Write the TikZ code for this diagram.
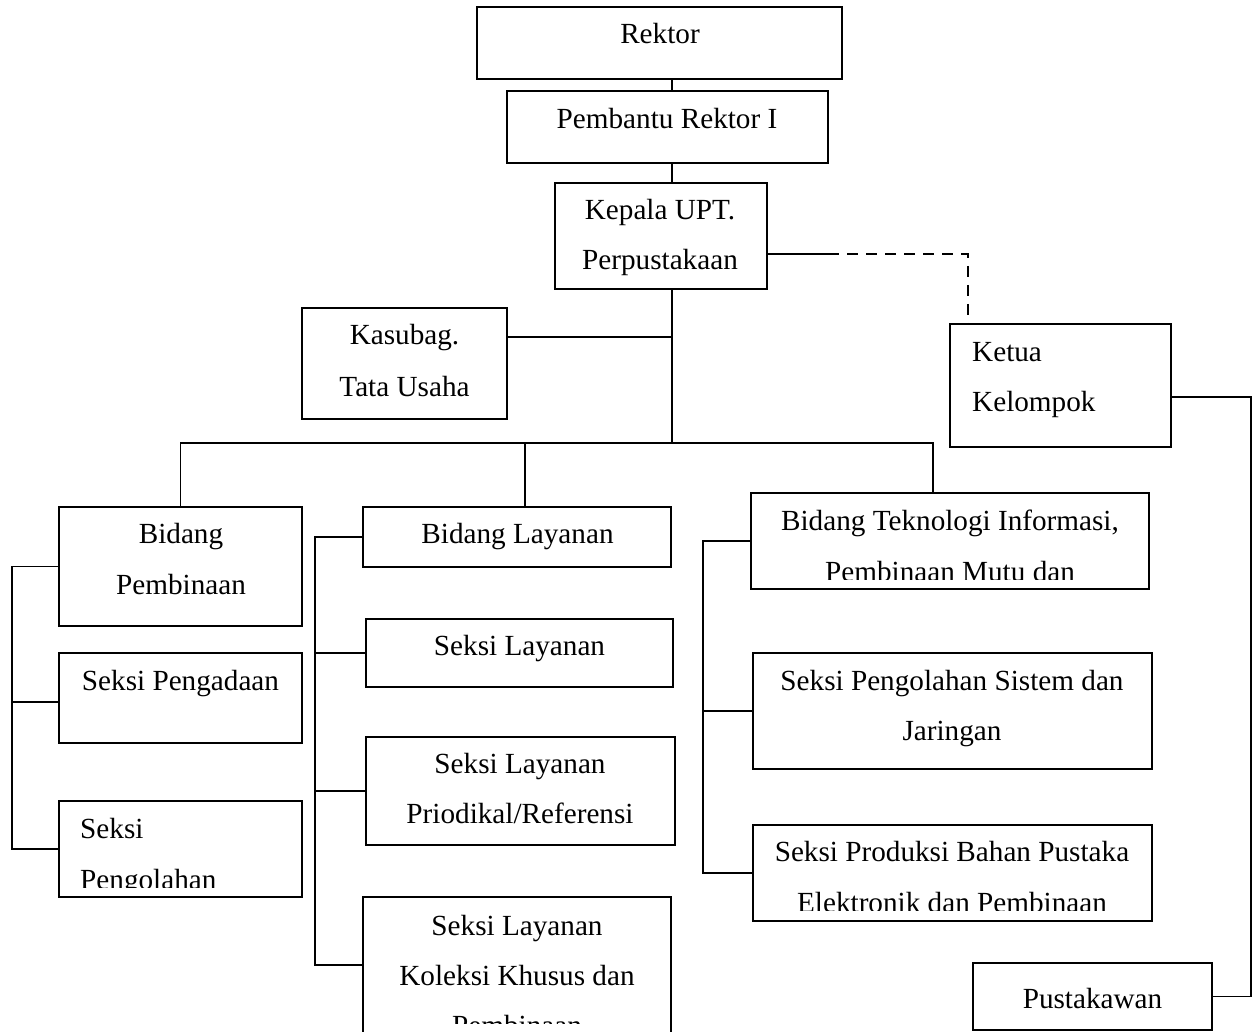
\documentclass[tikz,border=0pt]{standalone}
\usepackage{fontspec}
\setmainfont{Liberation Serif}

\tikzset{
  kotak/.style={draw, line width=1.7pt, inner sep=0pt},
  garis/.style={line width=1.6pt},
  putus/.style={line width=1.8pt, dash pattern=on 11pt off 8pt},
  teks/.style={anchor=base, inner sep=0pt, font=\fontsize{29.2}{35}\selectfont},
  teksk/.style={teks, anchor=base west}
}

\begin{document}
\begin{tikzpicture}[x=1pt, y=-1pt]
            \useasboundingbox (0,0) rectangle (1254,1032);

            % kotak-kotak
            \node[kotak, minimum width=365, minimum height=72] (rektor) at (659.5,43) {};
            \node[kotak, minimum width=321, minimum height=72] (pembantu) at (667.5,127) {};
            \node[kotak, minimum width=212, minimum height=106] (kepala) at (661,236) {};
            \node[kotak, minimum width=205, minimum height=111] (kasubag) at (404.5,363.5) {};
            \node[kotak, minimum width=221, minimum height=123] (ketua) at (1060.5,385.5) {};

            \node[kotak, minimum width=243, minimum height=119] (bidpem) at (180.5,566.5) {};
            \node[kotak, minimum width=243, minimum height=90] (sekada) at (180.5,698) {};
            \node[kotak, minimum width=243, minimum height=96] (sekolah) at (180.5,849) {};

            \node[kotak, minimum width=308, minimum height=60] (bidlay) at (517,537) {};
            \node[kotak, minimum width=307, minimum height=68] (seklay) at (519.5,653) {};
            \node[kotak, minimum width=309, minimum height=108] (priodik) at (520.5,791) {};
            \node[kotak, minimum width=308, minimum height=136] (koleksi) at (517,965) {};

            \node[kotak, minimum width=398, minimum height=96] (bidti) at (950,541) {};
            \node[kotak, minimum width=399, minimum height=116] (sistem) at (952.5,711) {};
            \node[kotak, minimum width=399, minimum height=96] (produksi) at (952.5,873) {};

            \node[kotak, minimum width=239, minimum height=67] (pustaka) at (1092.5,996.5) {};

            % tulisan
            \node[teks] (rektor-a) at (660,44) {Rektor};
            \node[teks] (pembantu-a) at (667,129) {Pembantu Rektor I};
            \node[teks] (kepala-a) at (660,220) {Kepala UPT.};
            \node[teks] (kepala-b) at (660,270) {Perpustakaan};
            \node[teks] (kasubag-a) at (404.5,345) {Kasubag.};
            \node[teks] (kasubag-b) at (404.5,397) {Tata Usaha};
            \node[teksk] (ketua-a) at (972,362) {Ketua};
            \node[teksk] (ketua-b) at (972,412) {Kelompok};

            \node[teks] (bidpem-a) at (181,543) {Bidang};
            \node[teks] (bidpem-b) at (181,594) {Pembinaan};
            \node[teks] (sekada-a) at (180.5,690) {Seksi Pengadaan};
            \node[teksk] (sekolah-a) at (80,838) {Seksi};
            \begin{scope}
              \clip (sekolah.north west) rectangle (sekolah.east |- 0,887);
              \node[teksk] (sekolah-b) at (80,889) {Pengolahan};
            \end{scope}

            \node[teks] (bidlay-a) at (517.5,543) {Bidang Layanan};
            \node[teks] (seklay-a) at (519.5,655) {Seksi Layanan};
            \node[teks] (priodik-a) at (520,773) {Seksi Layanan};
            \node[teks] (priodik-b) at (520,823) {Priodikal/Referensi};
            \node[teks] (koleksi-a) at (517,935) {Seksi Layanan};
            \node[teks] (koleksi-b) at (517,985) {Koleksi Khusus dan};
            \begin{scope}
              \clip (koleksi.north west) rectangle (koleksi.east |- 0,1023);
              \node[teks] (koleksi-c) at (517,1035) {Pembinaan};
            \end{scope}

            \node[teks] (bidti-a) at (950,530) {Bidang Teknologi Informasi,};
            \begin{scope}
              \clip (bidti.north west) rectangle (bidti.east |- 0,579);
              \node[teks] (bidti-b) at (950,581) {Pembinaan Mutu dan};
            \end{scope}
            \node[teks] (sistem-a) at (952,690) {Seksi Pengolahan Sistem dan};
            \node[teks] (sistem-b) at (952,740) {Jaringan};
            \node[teks] (produksi-a) at (952,861) {Seksi Produksi Bahan Pustaka};
            \begin{scope}
              \clip (produksi.north west) rectangle (produksi.east |- 0,910);
              \node[teks] (produksi-b) at (952,912) {Elektronik dan Pembinaan};
            \end{scope}
            \node[teks] (pustaka-a) at (1092.5,1008) {Pustakawan};

            % garis
            \coordinate (poros) at (672,443);
            \coordinate (tu) at (0,337);
            \coordinate (ada) at (0,702);
            \coordinate (bus-b) at (525,443);
            \coordinate (bus-c) at (933,443);
            \coordinate (kiri) at (12,0);
            \coordinate (tengah) at (315,0);
            \coordinate (kanan) at (703,0);
            \coordinate (ujung) at (1251,0);
            \coordinate (putus-a) at (828,254);
            \coordinate (turun) at (968,0);
            \coordinate (ketua-out) at (1171,397);

            \draw[garis] (rektor.south -| poros) -- (pembantu.north -| poros);
            \draw[garis] (pembantu.south -| poros) -- (kepala.north -| poros);
            \draw[garis] (kepala.south -| poros) -- (poros);
            \draw[garis] (kasubag.east |- tu) -- (poros |- tu);
            \draw[garis] (bidpem.north) -- (bidpem.north |- poros) -- (bus-c) -- (bus-c |- bidti.north);
            \draw[garis] (bus-b) -- (bus-b |- bidlay.north);

            \draw[garis] (bidpem.west) -- (bidpem.west -| kiri) -- (sekolah.west -| kiri) -- (sekolah.west);
            \draw[garis] (kiri |- ada) -- (sekada.west |- ada);

            \draw[garis] (bidlay.west) -- (bidlay.west -| tengah) -- (koleksi.west -| tengah) -- (koleksi.west);
            \draw[garis] (seklay.west -| tengah) -- (seklay.west);
            \draw[garis] (priodik.west -| tengah) -- (priodik.west);

            \draw[garis] (bidti.west) -- (bidti.west -| kanan) -- (produksi.west -| kanan) -- (produksi.west);
            \draw[garis] (sistem.west -| kanan) -- (sistem.west);

            \draw[garis] (kepala.east |- putus-a) -- (putus-a);
            \draw[putus] (putus-a) -| (turun |- ketua.north);
            \draw[garis] (ketua-out) -- (ketua-out -| ujung) |- (pustaka.east);

        \end{tikzpicture}
\end{document}
